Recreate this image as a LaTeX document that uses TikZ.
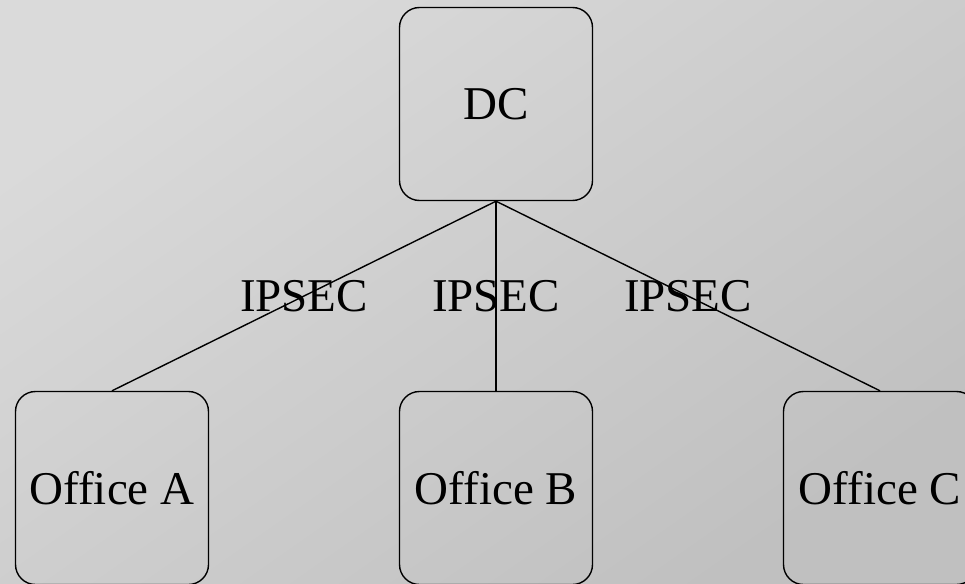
\documentclass[tikz,border=0pt]{standalone}
\usepackage{fontspec}
\setmainfont{Liberation Serif}
\usepackage{tikz}

\definecolor{bglight}{RGB}{218,218,218}
\definecolor{bgdark}{RGB}{192,192,192}

\tikzset{
    site/.style={rectangle, rounded corners=20pt, draw, line width=1.4pt,
                 minimum width=193pt, minimum height=193pt, inner sep=0pt,
                 font=\fontsize{47}{56}\selectfont},
    link/.style={line width=1.4pt},
    tunnel/.style={font=\fontsize{47}{56}\selectfont, inner sep=0pt}
}

\begin{document}
\begin{tikzpicture}[x=1pt, y=-1pt]
                    % Background
                    \shade[top color=bglight, bottom color=bgdark, shading angle=35]
                        (0,0) rectangle (965,583);
                    \useasboundingbox (0,0) rectangle (965,583);
                    % Nodes
                    \node[site] (dc) at (496,104) {DC};
                    \node[site] (officeA) at (112,488) {Office A};
                    \node[site] (officeB) at (496,488) {Office B};
                    \node[site] (officeC) at (880,488) {Office C};
                    % Edges
                    \draw[-, link] (dc.south) -- node[tunnel] {IPSEC} (officeA.north);
                    \draw[-, link] (dc.south) -- node[tunnel] {IPSEC} (officeB.north);
                    \draw[-, link] (dc.south) -- node[tunnel] {IPSEC} (officeC.north);
                \end{tikzpicture}
\end{document}
